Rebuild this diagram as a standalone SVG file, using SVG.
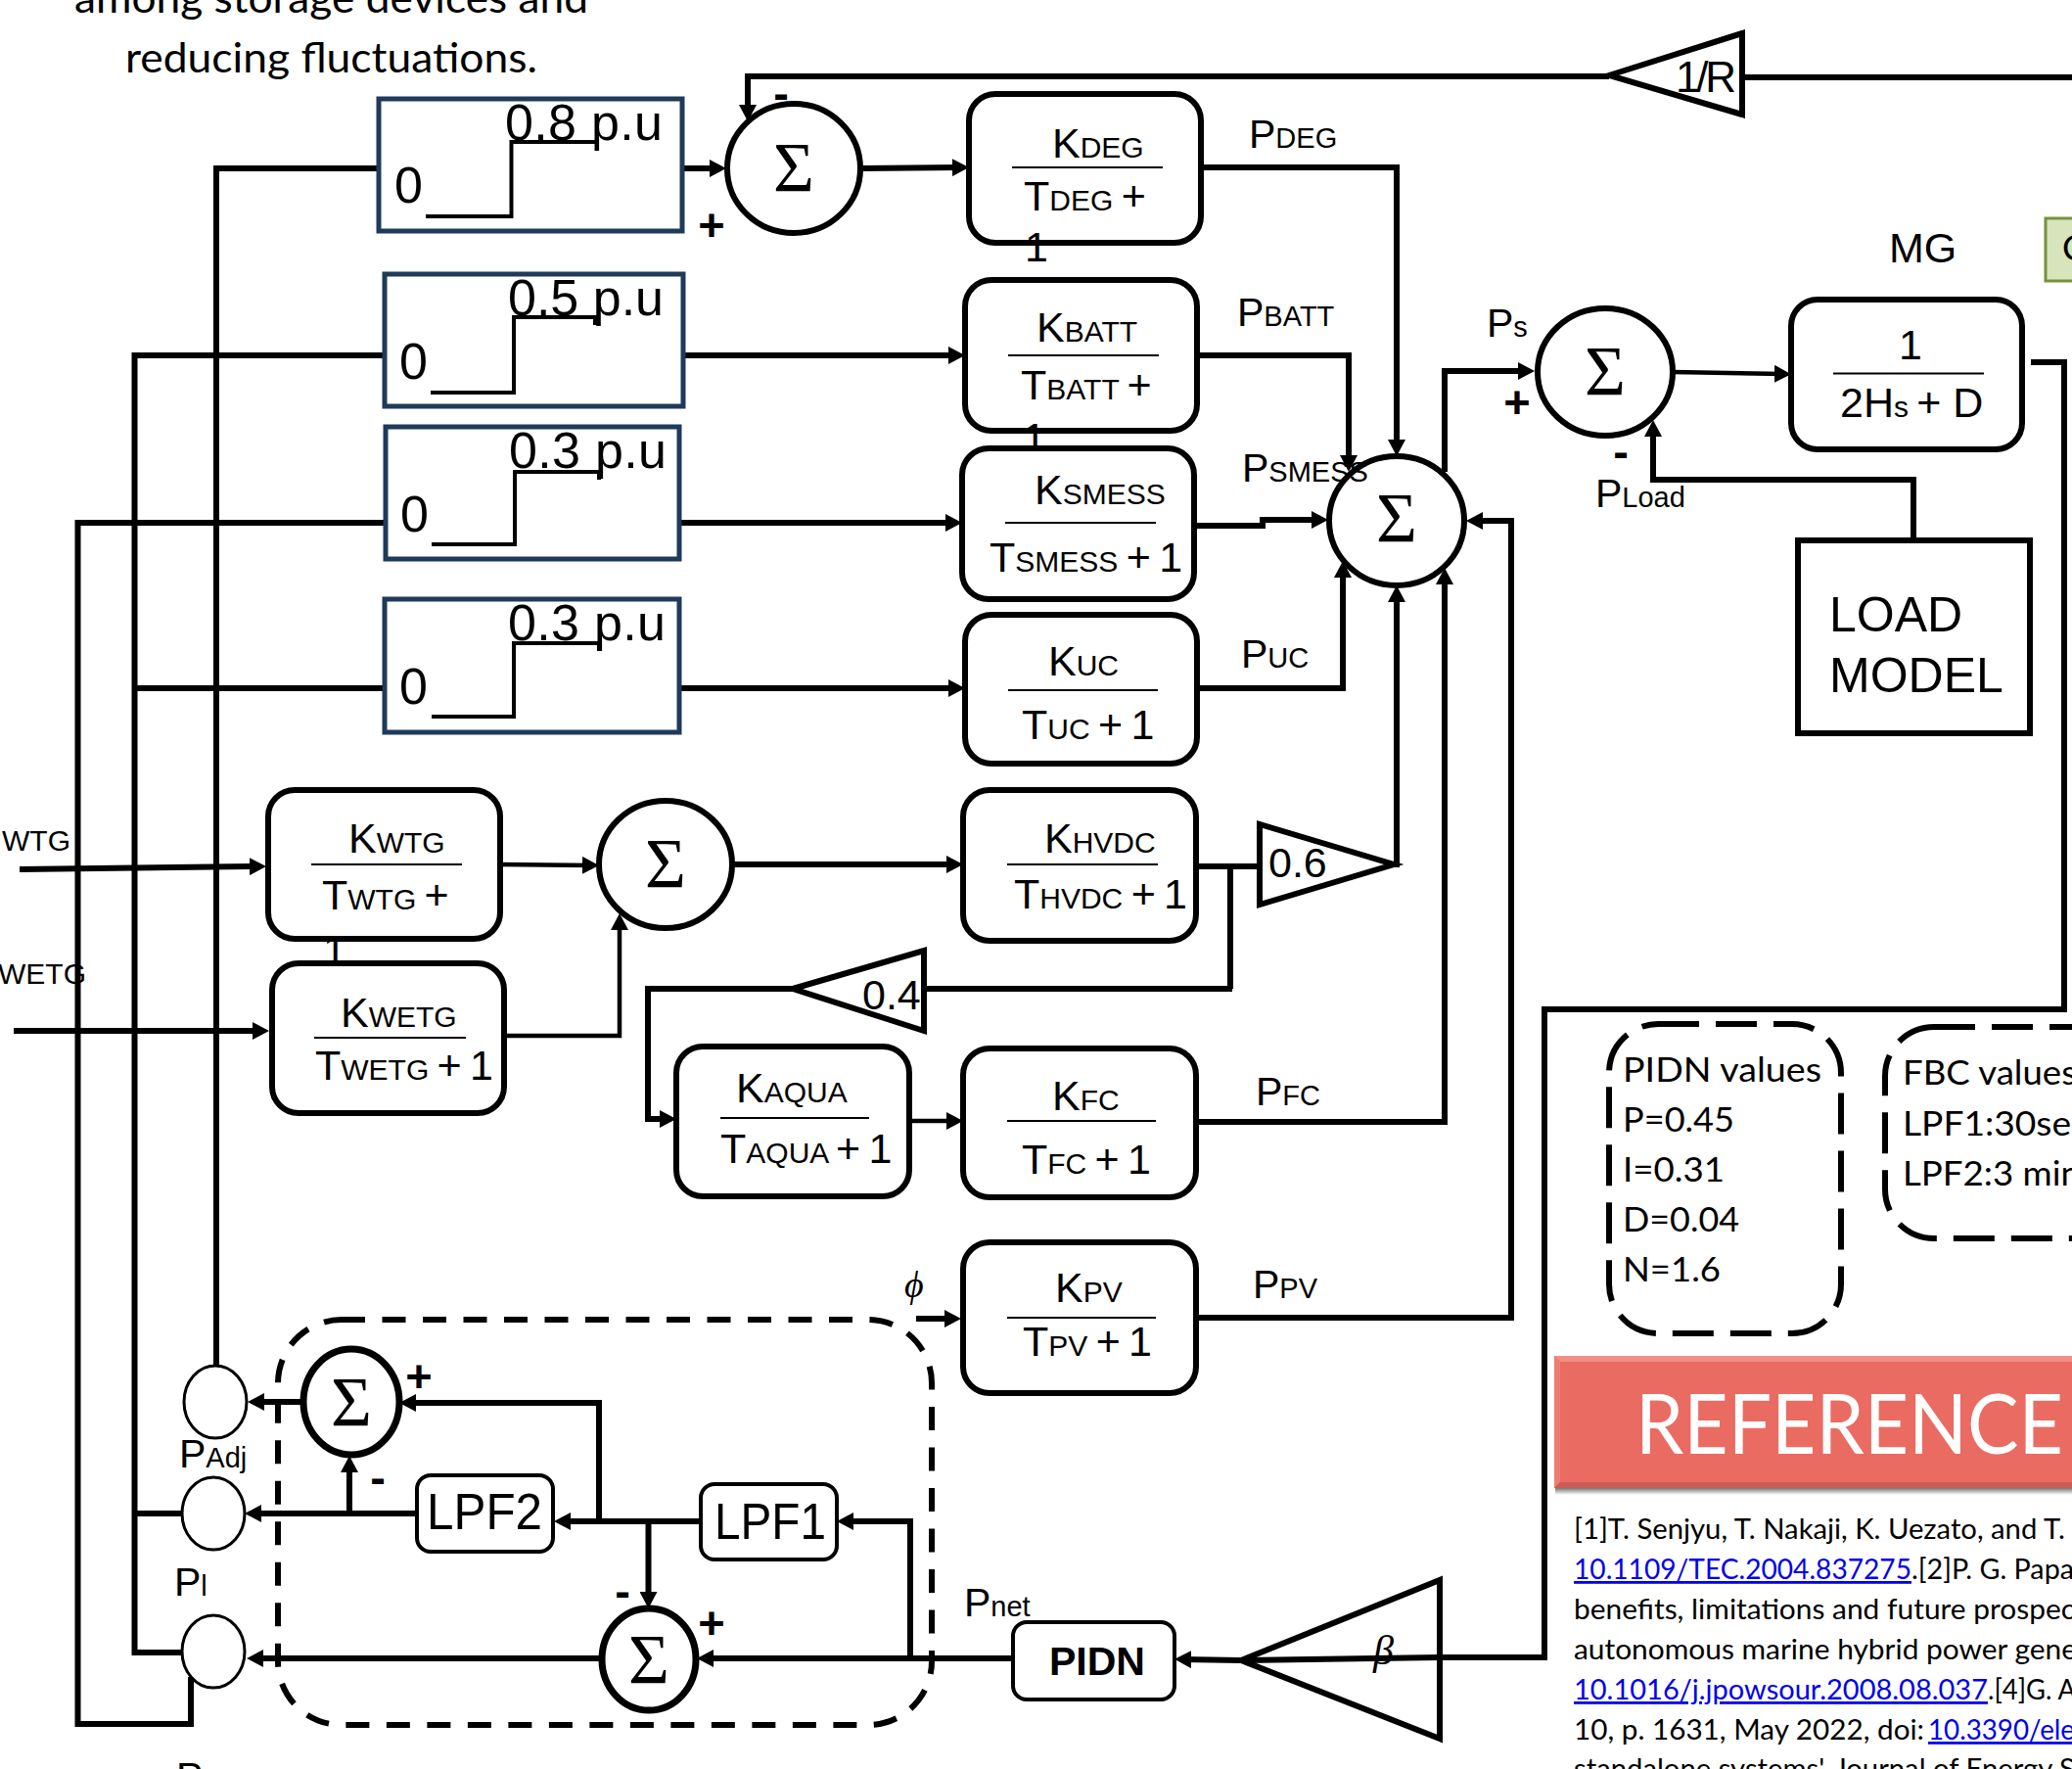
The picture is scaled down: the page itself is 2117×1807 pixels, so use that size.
<svg xmlns="http://www.w3.org/2000/svg" width="2117" height="1807" viewBox="0 0 2117 1807">
<style>
text{font-family:"Liberation Sans",Arial,sans-serif;fill:#000}
.f{font-size:43px}.s{font-size:30px}
.lb{font-size:41px}.ls{font-size:29px}
.step{font-size:52px}
.sg{font-family:"Liberation Serif","DejaVu Serif",serif;font-size:72px;text-anchor:middle}
.sign{font-size:47px;font-weight:bold;text-anchor:middle}
.cal{font-family:Lato,"Open Sans",sans-serif}
.ref{font-family:Lato,"Open Sans",sans-serif;font-size:28px}
.lnk{fill:#0000ee;text-decoration:underline}
.w{fill:none;stroke:#000;stroke-width:6;stroke-linejoin:miter}
.t{fill:none;stroke:#000;stroke-width:4.500}
.a{marker-end:url(#ah)}
.box{fill:#fff;stroke:#000;stroke-width:6}
.sbox{fill:#fff;stroke:#1f3a5a;stroke-width:5}
.st{fill:none;stroke:#000;stroke-width:4}
.fl{stroke:#000;stroke-width:2;fill:none}
.c{fill:#fff;stroke:#000;stroke-width:6}
.e{fill:#fff;stroke:#000;stroke-width:3}
.d{fill:none;stroke:#000;stroke-width:6}
</style>
<defs>
<marker id="ah" markerUnits="userSpaceOnUse" markerWidth="17" markerHeight="18" refX="9" refY="9" orient="auto"><path d="M0,0L17,9L0,18z" fill="#000"/></marker>
<linearGradient id="sh" x1="0" y1="0" x2="0" y2="1"><stop offset="0" stop-color="#777"/><stop offset="1" stop-color="#fff"/></linearGradient>
</defs>
<rect width="2117" height="1807" fill="#fff"/>

<g id="intro-text">
<text class="cal" x="76" y="13" font-size="42" textLength="525" lengthAdjust="spacingAndGlyphs">among storage devices and</text>
<text class="cal" x="128" y="74" font-size="42" textLength="421" lengthAdjust="spacingAndGlyphs">reducing fluctuations.</text>
</g>

<g id="connectors">
<path class="w" d="M2117,79H1780"/>
<path class="w a" d="M1644,78H764V116"/>
<path class="w a" d="M697,172H734"/>
<path class="w a" d="M879,172L982,171"/>
<path class="w" d="M387,172H221V1396"/>
<path class="w" d="M391,363H137.500V1688H185"/>
<path class="w" d="M137.500,1546H185"/>
<path class="w" d="M393,703H137.500"/>
<path class="w" d="M394,534H79.500V1761H195V1713"/>
<path class="w a" d="M698,363H978"/>
<path class="w a" d="M694,534H975"/>
<path class="w a" d="M694,703H978"/>
<path class="w a" d="M1227,171H1427V458"/>
<path class="w a" d="M1223,363H1378V474"/>
<path class="w a" d="M1220,537H1290V531H1349"/>
<path class="w a" d="M1217,703H1372V581"/>
<path class="w a" d="M1424,883H1427V606"/>
<path class="w a" d="M1222,1146H1476V588"/>
<path class="w a" d="M1222,1346H1544V532H1506"/>
<path class="w a" d="M1476,482V379H1560"/>
<path class="t a" d="M1709,380L1822,382"/>
<path class="w a" d="M1955,552V490H1689V437"/>
<path class="w" d="M2075,370H2109V1031H1578V1693H1471"/>
<path class="w a" d="M1471,1693L1268,1696L1208,1695"/>
<path class="w a" d="M1035,1694H720"/>
<path class="w a" d="M930,1694V1554H863"/>
<path class="w a" d="M716,1554H574"/>
<path class="w a" d="M612,1554V1433H416"/>
<path class="w a" d="M662.500,1554V1635"/>
<path class="w a" d="M426,1546H258"/>
<path class="w a" d="M357,1546V1495"/>
<path class="w a" d="M308,1432H261"/>
<path class="w a" d="M615,1694H260"/>
<path class="w a" d="M936,1347H974"/>
<path class="w a" d="M20,888L264,885"/>
<path class="w a" d="M14,1053H267"/>
<path class="t a" d="M511,883L604,884"/>
<path class="w a" d="M748,883H976"/>
<path class="t a" d="M517,1058H633V941"/>
<path class="w" d="M1222,885H1287"/>
<path class="w" d="M1257,885V1010"/>
<path class="w" d="M1259,1010H944"/>
<path class="w a" d="M810,1010H662V1143H683"/>
<path class="t a" d="M929,1145H976"/>
</g>

<g id="nodes">
<g id="step-1"><rect class="sbox" x="387" y="101" width="310" height="135"/><path class="st" d="M435,221H522.500V145H610V153"/><text class="step" x="403" y="207">0</text><text class="step" x="516" y="143" textLength="161">0.8 p.u</text></g>
<g id="step-2"><rect class="sbox" x="393" y="280" width="305" height="135"/><path class="st" d="M440,401H525V324H608V332"/><text class="step" x="408" y="387">0</text><text class="step" x="519" y="322" textLength="159">0.5 p.u</text></g>
<g id="step-3"><rect class="sbox" x="394" y="436" width="300" height="135"/><path class="st" d="M441,556H526V482H612V490"/><text class="step" x="409" y="543">0</text><text class="step" x="520" y="478" textLength="161">0.3 p.u</text></g>
<g id="step-4"><rect class="sbox" x="393" y="612" width="301" height="136"/><path class="st" d="M441,732H525V657H612V665"/><text class="step" x="408" y="719">0</text><text class="step" x="519" y="654" textLength="161">0.3 p.u</text></g>

<g id="block-deg"><rect class="box" x="990" y="96" width="237" height="152" rx="27"/><path class="fl" d="M1034,171H1188"/><text class="f" x="1075" y="161">K<tspan class="s">DEG</tspan></text><text class="f" x="1046" y="215">T<tspan class="s">DEG </tspan>+</text><text class="f" x="1047" y="267">1</text></g>
<g id="block-batt"><rect class="box" x="986" y="286" width="237" height="154" rx="27"/><path class="fl" d="M1030,363H1184"/><text class="f" x="1059" y="349">K<tspan class="s">BATT</tspan></text><text class="f" x="1043" y="408">T<tspan class="s">BATT </tspan>+</text></g>
<text class="f" x="1045" y="462">1</text>
<g id="block-smess"><rect class="box" x="983" y="458" width="237" height="154" rx="27"/><path class="fl" d="M1027,534H1181"/><text class="f" x="1057" y="515">K<tspan class="s">SMESS</tspan></text><text class="f" x="1011" y="584">T<tspan class="s">SMESS </tspan>+<tspan class="s"> </tspan>1</text></g>
<g id="block-uc"><rect class="box" x="986" y="628" width="237" height="152" rx="27"/><path class="fl" d="M1030,705H1183"/><text class="f" x="1071" y="690">K<tspan class="s">UC</tspan></text><text class="f" x="1044" y="755">T<tspan class="s">UC </tspan>+<tspan class="s"> </tspan>1</text></g>
<g id="block-hvdc"><rect class="box" x="984" y="807" width="238" height="154" rx="27"/><path class="fl" d="M1029,883H1183"/><text class="f" x="1067" y="871">K<tspan class="s">HVDC</tspan></text><text class="f" x="1036" y="928">T<tspan class="s">HVDC </tspan>+<tspan class="s"> </tspan>1</text></g>
<g id="block-wtg"><rect class="box" x="274" y="807" width="237" height="152" rx="27"/><path class="fl" d="M318,883H472"/><text class="f" x="356" y="871">K<tspan class="s">WTG</tspan></text><text class="f" x="329" y="929">T<tspan class="s">WTG </tspan>+</text><text class="f" x="330" y="985">1</text></g>
<g id="block-wetg"><rect class="box" x="278" y="984" width="237" height="153" rx="27"/><path class="fl" d="M321,1060H476"/><text class="f" x="348" y="1049">K<tspan class="s">WETG</tspan></text><text class="f" x="322" y="1103">T<tspan class="s">WETG </tspan>+<tspan class="s"> </tspan>1</text></g>
<g id="block-aqua"><rect class="box" x="691" y="1069" width="238" height="153" rx="27"/><path class="fl" d="M736,1142H888"/><text class="f" x="752" y="1126">K<tspan class="s">AQUA</tspan></text><text class="f" x="736" y="1188">T<tspan class="s">AQUA </tspan>+<tspan class="s"> </tspan>1</text></g>
<g id="block-fc"><rect class="box" x="984" y="1071" width="238" height="152" rx="27"/><path class="fl" d="M1029,1145H1181"/><text class="f" x="1075" y="1134">K<tspan class="s">FC</tspan></text><text class="f" x="1044" y="1199">T<tspan class="s">FC </tspan>+<tspan class="s"> </tspan>1</text></g>
<g id="block-pv"><rect class="box" x="984" y="1269" width="238" height="154" rx="27"/><path class="fl" d="M1029,1346H1181"/><text class="f" x="1078" y="1330">K<tspan class="s">PV</tspan></text><text class="f" x="1045" y="1385">T<tspan class="s">PV </tspan>+<tspan class="s"> </tspan>1</text></g>
<g id="block-mg"><rect class="box" x="1830" y="306" width="236" height="153" rx="27"/><path class="fl" d="M1873,381.500H2027"/><text class="f" x="1940" y="367">1</text><text class="f" x="1880" y="426">2H<tspan class="s">s </tspan>+ D</text></g>
<g id="block-load"><rect class="box" x="1837" y="552" width="237" height="197"/><text x="1869" y="645" font-size="50">LOAD</text><text x="1869" y="707" font-size="50">MODEL</text></g>

<g id="sum-deg"><ellipse class="c" cx="811" cy="172" rx="68" ry="66"/><text class="sg" x="811" y="195">Σ</text></g>
<g id="sum-main"><ellipse class="c" cx="1427" cy="532" rx="69" ry="66"/><text class="sg" x="1427" y="553">Σ</text></g>
<g id="sum-freq"><ellipse class="c" cx="1640" cy="380" rx="69" ry="65"/><text class="sg" x="1640" y="403">Σ</text></g>
<g id="sum-wind"><ellipse class="c" cx="680" cy="883" rx="68" ry="65"/><text class="sg" x="680" y="906">Σ</text></g>
<g id="sum-adj"><ellipse class="c" style="stroke-width:7" cx="359" cy="1432" rx="49" ry="54"/><text class="sg" x="359" y="1456">Σ</text></g>
<g id="sum-low"><ellipse class="c" style="stroke-width:7" cx="663" cy="1695" rx="48" ry="52"/><text class="sg" x="663" y="1719">Σ</text></g>

<g id="port-adj"><ellipse class="e" cx="220" cy="1432" rx="32" ry="37"/></g>
<g id="port-mid"><ellipse class="e" cx="218" cy="1546" rx="32" ry="37"/></g>
<g id="port-low"><ellipse class="e" cx="218" cy="1687" rx="32" ry="37"/></g>

<g id="gain-r"><path class="w" d="M1644,77L1780,34V117z"/><text x="1712" y="94" font-size="44" textLength="62">1/R</text></g>
<g id="gain-06"><path class="w" style="fill:#fff" d="M1287,842V924L1424,883z"/><text x="1296" y="896" font-size="43">0.6</text></g>
<g id="gain-04"><path class="w" style="fill:#fff" d="M810,1010L944,971V1053z"/><text x="881" y="1031" font-size="43">0.4</text></g>
<g id="gain-beta"><path class="w" d="M1268,1696L1471,1614V1776z"/><text x="1403" y="1700" font-size="42" font-style="italic" style="font-family:'Liberation Serif',serif">β</text></g>

<g id="lpf1"><rect class="box" style="stroke-width:4" x="716" y="1516" width="139" height="77" rx="14"/><text x="730" y="1572" font-size="52" textLength="114" lengthAdjust="spacingAndGlyphs">LPF1</text></g>
<g id="lpf2"><rect class="box" style="stroke-width:4" x="426" y="1507" width="139" height="78" rx="14"/><text x="436" y="1562" font-size="52" textLength="118" lengthAdjust="spacingAndGlyphs">LPF2</text></g>
<g id="pidn"><rect class="box" style="stroke-width:4" x="1035" y="1657" width="165" height="79" rx="14"/><text x="1072" y="1711" font-size="41" font-weight="bold">PIDN</text></g>

<g id="fbc-region"><rect class="d" x="284" y="1348" width="668" height="414" rx="65" stroke-dasharray="24 17.500"/></g>
<g id="pidn-values"><rect class="d" x="1644" y="1046" width="237" height="316" rx="50" stroke-dasharray="42 17"/>
<text class="cal" font-size="35" x="1658" y="1105" textLength="203" lengthAdjust="spacingAndGlyphs">PIDN values</text>
<text class="cal" font-size="35" x="1658" y="1156" textLength="114" lengthAdjust="spacingAndGlyphs">P=0.45</text>
<text class="cal" font-size="35" x="1658" y="1207" textLength="104" lengthAdjust="spacingAndGlyphs">I=0.31</text>
<text class="cal" font-size="35" x="1658" y="1258" textLength="119" lengthAdjust="spacingAndGlyphs">D=0.04</text>
<text class="cal" font-size="35" x="1658" y="1309" textLength="100" lengthAdjust="spacingAndGlyphs">N=1.6</text></g>
<g id="fbc-values"><rect class="d" x="1926" y="1049" width="260" height="216" rx="50" stroke-dasharray="42 17"/>
<text class="cal" font-size="35" x="1944" y="1108" textLength="178" lengthAdjust="spacingAndGlyphs">FBC values</text>
<text class="cal" font-size="35" x="1944" y="1160" textLength="172" lengthAdjust="spacingAndGlyphs">LPF1:30se</text>
<text class="cal" font-size="35" x="1944" y="1211" textLength="182" lengthAdjust="spacingAndGlyphs">LPF2:3 min</text></g>
<g id="green-label"><rect x="2090" y="223" width="40" height="64" fill="#d7e4bc" stroke="#76923c" stroke-width="3"/><text class="cal" x="2107" y="266" font-size="36">C</text></g>
</g>

<g id="labels">
<text class="lb" x="1276" y="151">P<tspan class="ls">DEG</tspan></text>
<text class="lb" x="1264" y="333">P<tspan class="ls">BATT</tspan></text>
<text class="lb" x="1269" y="492">P<tspan class="ls">SMESS</tspan></text>
<text class="lb" x="1268" y="682">P<tspan class="ls">UC</tspan></text>
<text class="lb" x="1283" y="1129">P<tspan class="ls">FC</tspan></text>
<text class="lb" x="1280" y="1326">P<tspan class="ls">PV</tspan></text>
<text class="lb" x="985" y="1651">P<tspan class="ls">net</tspan></text>
<text class="lb" x="1519" y="344">P<tspan class="ls">s</tspan></text>
<text class="lb" x="1630" y="518">P<tspan class="ls">Load</tspan></text>
<text class="lb" x="183" y="1499">P<tspan class="ls">Adj</tspan></text>
<text class="lb" x="178" y="1630">P<tspan class="ls">l</tspan></text>
<text class="lb" x="180" y="1829">P</text>
<text x="1930" y="268" font-size="43">MG</text>
<text x="2" y="869" font-size="30">WTG</text>
<text x="-2" y="1005" font-size="30">WETG</text>
<text x="924" y="1325" font-size="38" font-style="italic" style="font-family:'Liberation Serif',serif">ϕ</text>
<text class="sign" x="727" y="246">+</text>
<text class="sign" x="798" y="111">-</text>
<text class="sign" x="1550" y="427">+</text>
<text class="sign" x="1656" y="477">-</text>
<text class="sign" x="428" y="1422">+</text>
<text class="sign" x="386" y="1525">-</text>
<text class="sign" x="636" y="1641">-</text>
<text class="sign" x="727" y="1674">+</text>
</g>

<g id="references">
<rect x="1589" y="1520" width="528" height="7" fill="url(#sh)"/>
<rect x="1588" y="1385" width="529" height="135" fill="#ea6b62"/>
<path d="M1588,1385H2117V1391H1594z" fill="#f28f85"/>
<path d="M1588,1385L1594,1391V1514L1588,1520z" fill="#ee7c72"/>
<path d="M1588,1520L1594,1514H2117V1520z" fill="#c65e56"/>
<text class="cal" x="1671" y="1485" font-size="86" style="fill:#fff" textLength="437" lengthAdjust="spacingAndGlyphs">REFERENCE</text>
<text class="ref" x="1608" y="1572" textLength="502" lengthAdjust="spacingAndGlyphs">[1]T. Senjyu, T. Nakaji, K. Uezato, and T.</text>
<text class="ref lnk" x="1608" y="1613" textLength="345" lengthAdjust="spacingAndGlyphs">10.1109/TEC.2004.837275</text>
<text class="ref" x="1953" y="1613" textLength="166" lengthAdjust="spacingAndGlyphs">.[2]P. G. Papa</text>
<text class="ref" x="1608" y="1654" textLength="512" lengthAdjust="spacingAndGlyphs">benefits, limitations and future prospec</text>
<text class="ref" x="1608" y="1695" textLength="514" lengthAdjust="spacingAndGlyphs">autonomous marine hybrid power gene</text>
<text class="ref lnk" x="1608" y="1736" textLength="423" lengthAdjust="spacingAndGlyphs">10.1016/j.jpowsour.2008.08.037</text>
<text class="ref" x="2031" y="1736" textLength="90" lengthAdjust="spacingAndGlyphs">.[4]G. A</text>
<text class="ref" x="1608" y="1777" textLength="358" lengthAdjust="spacingAndGlyphs">10, p. 1631, May 2022, doi:</text>
<text class="ref lnk" x="1970" y="1777" textLength="150" lengthAdjust="spacingAndGlyphs">10.3390/ele</text>
<text class="ref" x="1608" y="1817" textLength="512" lengthAdjust="spacingAndGlyphs">standalone systems', Journal of Energy S</text>
</g>
</svg>
